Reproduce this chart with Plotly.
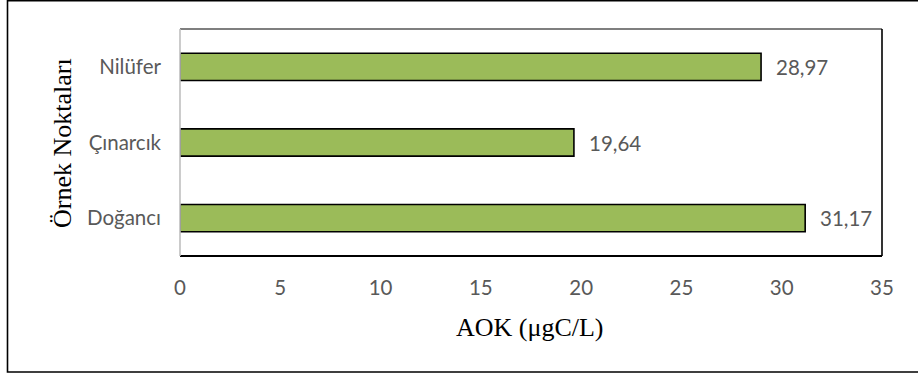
import plotly.graph_objects as go

# Sampling points (bottom to top) and measured AOK values
stations = ["Doğancı", "Çınarcık", "Nilüfer"]
aok_values = [31.17, 19.64, 28.97]
x_ticks = [0, 5, 10, 15, 20, 25, 30, 35]

W, H = 918, 373
L, R, T, B = 180, 36, 29, 117
pw, ph = W - L - R, H - T - B

def px_to_paper_x(px):
    return (px - L) / pw

def px_to_paper_y(py):
    return (H - B - py) / ph

TICK_FONT = dict(family="Lato, Open Sans, sans-serif", size=20.5, color="#595959")
TITLE_FONT = dict(family="Liberation Serif, Times New Roman, serif", size=26, color="#000000")

fig = go.Figure(
    go.Bar(
        x=aok_values,
        y=stations,
        orientation="h",
        marker=dict(color="#9BBB59", line=dict(color="#000000", width=1.6)),
        width=0.36,
        hoverinfo="x+y",
    )
)

# value labels to the right of each bar
for name, v in zip(stations, aok_values):
    fig.add_annotation(
        x=v, y=name, xref="x", yref="y",
        text=f"{v:.2f}".replace(".", ","),
        showarrow=False, xanchor="left", xshift=13,
        font=TICK_FONT,
    )

# axis titles
fig.add_annotation(
    x=px_to_paper_x(530), y=px_to_paper_y(327), xref="paper", yref="paper",
    text="AOK (μgC/L)", showarrow=False, font=TITLE_FONT,
    xanchor="center", yanchor="middle",
)
fig.add_annotation(
    x=px_to_paper_x(62), y=px_to_paper_y(143), xref="paper", yref="paper",
    text="Örnek Noktaları", showarrow=False, font=TITLE_FONT, textangle=-90,
    xanchor="center", yanchor="middle",
)

# plot-area frame: black top/right/bottom, grey value axis on the left
fig.add_shape(type="line", xref="paper", yref="paper", x0=0, x1=1, y0=1, y1=1,
              line=dict(color="#000000", width=1.2))
fig.add_shape(type="line", xref="paper", yref="paper", x0=1, x1=1, y0=0, y1=1,
              line=dict(color="#000000", width=1.6))
fig.add_shape(type="line", xref="paper", yref="paper", x0=0, x1=1, y0=0, y1=0,
              line=dict(color="#000000", width=2))
fig.add_shape(type="line", xref="paper", yref="paper", x0=0, x1=0, y0=0, y1=1,
              line=dict(color="#BFBFBF", width=1.6))

# outer chart border
fig.add_shape(type="rect", xref="paper", yref="paper",
              x0=px_to_paper_x(7.5), x1=px_to_paper_x(930),
              y0=px_to_paper_y(372), y1=px_to_paper_y(0.8),
              line=dict(color="#000000", width=1.6), layer="below")

fig.update_layout(
    width=W, height=H,
    margin=dict(l=L, r=R, t=T, b=B),
    paper_bgcolor="white", plot_bgcolor="white",
    showlegend=False,
    separators=",.",
    xaxis=dict(
        range=[0, 35], tickvals=x_ticks, ticktext=[str(t) for t in x_ticks],
        showgrid=False, zeroline=False, showline=False, ticks="",
        tickfont=TICK_FONT, ticklabelstandoff=17, fixedrange=True,
    ),
    yaxis=dict(
        categoryorder="array", categoryarray=stations,
        showgrid=False, zeroline=False, showline=False, ticks="",
        tickfont=TICK_FONT, ticklabelstandoff=18, fixedrange=True,
    ),
)

fig.write_html("out.html")
